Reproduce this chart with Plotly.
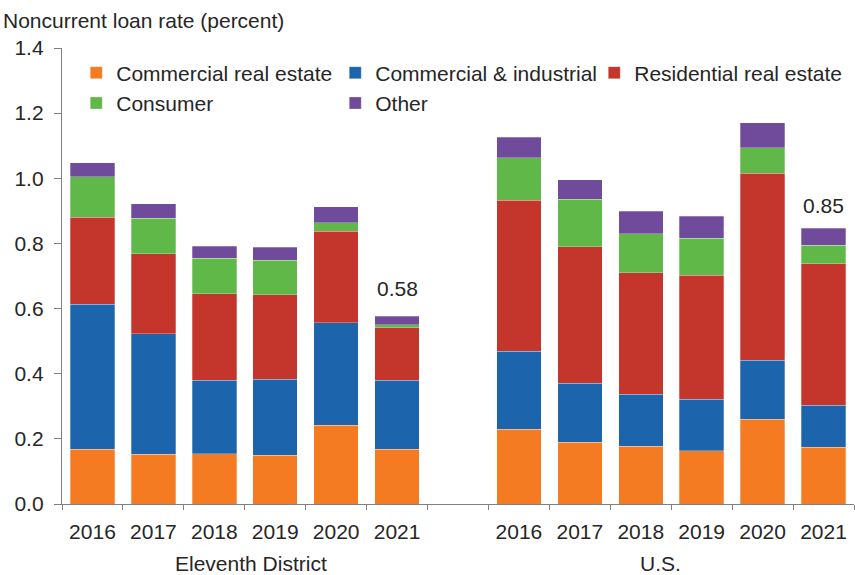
import plotly.graph_objects as go

years = ["2016", "2017", "2018", "2019", "2020", "2021"]
groups = ["Eleventh District", "U.S."]

# Eleventh District components (percent)
ed_cre = [0.168, 0.153, 0.154, 0.150, 0.242, 0.168]
ed_ci = [0.445, 0.369, 0.226, 0.233, 0.314, 0.212]
ed_rre = [0.268, 0.246, 0.266, 0.259, 0.282, 0.161]
ed_cons = [0.123, 0.109, 0.108, 0.106, 0.025, 0.009]
ed_other = [0.043, 0.045, 0.037, 0.040, 0.049, 0.027]

# U.S. components (percent)
us_cre = [0.230, 0.190, 0.178, 0.164, 0.260, 0.175]
us_ci = [0.239, 0.180, 0.159, 0.158, 0.181, 0.128]
us_rre = [0.464, 0.420, 0.373, 0.380, 0.574, 0.434]
us_cons = [0.130, 0.145, 0.119, 0.114, 0.078, 0.058]
us_other = [0.063, 0.060, 0.070, 0.067, 0.077, 0.052]

series_names = ["Commercial real estate", "Commercial & industrial",
                "Residential real estate", "Consumer", "Other"]
colors = ["#f47b22", "#1c64ab", "#c4352c", "#5fb847", "#704b9b"]
ed_series = [ed_cre, ed_ci, ed_rre, ed_cons, ed_other]
us_series = [us_cre, us_ci, us_rre, us_cons, us_other]

# positions: 6 bars, one empty slot, 6 bars
n = len(years)
x_ed = list(range(n))
x_us = [i + n + 1 for i in range(n)]
x_all = x_ed + x_us

FONT = "Liberation Sans, Arial, sans-serif"
FS = 21
TXT = "#262626"
AX = "#808080"

fig = go.Figure()
for name, col, ed, us in zip(series_names, colors, ed_series, us_series):
    fig.add_trace(go.Bar(
        x=x_all, y=ed + us, name=name,
        marker=dict(color=col, line=dict(color="rgba(255,255,255,0.35)", width=0.8)),
        width=0.73,
    ))

totals_ed = [sum(v) for v in zip(*ed_series)]
totals_us = [sum(v) for v in zip(*us_series)]

fig.add_annotation(x=x_ed[-1], y=totals_ed[-1], text=f"{totals_ed[-1]:.2f}",
                   showarrow=False, yanchor="bottom", yshift=14,
                   font=dict(size=FS, color=TXT, family=FONT))
fig.add_annotation(x=x_us[-1], y=totals_us[-1], text=f"{totals_us[-1]:.2f}",
                   showarrow=False, yanchor="bottom", yshift=9,
                   font=dict(size=FS, color=TXT, family=FONT))

# group labels
fig.add_annotation(x=(x_ed[0] + x_ed[-1]) / 2, y=0, yref="paper", text=groups[0],
                   showarrow=False, yanchor="middle", yshift=-59, xshift=6,
                   font=dict(size=FS, color=TXT, family=FONT))
fig.add_annotation(x=(x_us[0] + x_us[-1]) / 2, y=0, yref="paper", text=groups[1],
                   showarrow=False, yanchor="middle", yshift=-59, xshift=-11,
                   font=dict(size=FS, color=TXT, family=FONT))

# y-axis title at top-left
fig.add_annotation(x=0, xref="paper", xshift=-61, y=1, yref="paper", yshift=28,
                   text="Noncurrent loan rate (percent)", showarrow=False,
                   xanchor="left", yanchor="middle",
                   font=dict(size=FS, color=TXT, family=FONT))

fig.update_layout(
    width=855, height=575,
    margin=dict(l=62, r=1, t=48, b=71),
    barmode="stack",
    plot_bgcolor="white", paper_bgcolor="white",
    font=dict(family=FONT, size=FS, color=TXT),
    showlegend=True,
    legend=dict(orientation="h", x=0.018, xanchor="left", y=0.99, yanchor="top",
                traceorder="normal", entrywidth=214, entrywidthmode="pixels",
                font=dict(size=FS, color=TXT, family=FONT),
                bgcolor="rgba(0,0,0,0)", itemclick=False, tracegroupgap=0),
    xaxis=dict(
        range=[-0.5, x_us[-1] + 0.5],
        tickmode="array", tickvals=x_all, ticktext=years + years,
        ticks="", showline=True, linecolor=AX, linewidth=1.3,
        showgrid=False, zeroline=False,
        ticklabelstandoff=9,
        tickfont=dict(size=FS, color=TXT, family=FONT),
        minor=dict(tick0=-0.5, dtick=1, ticks="outside", ticklen=5,
                   tickcolor=AX, tickwidth=1.3, showgrid=False),
    ),
    yaxis=dict(
        range=[0, 1.4], dtick=0.2, tickformat=".1f",
        ticks="outside", ticklen=7, tickcolor=AX, tickwidth=1.3,
        showline=True, linecolor=AX, linewidth=1.3,
        showgrid=False, zeroline=False,
        ticklabelstandoff=6,
        tickfont=dict(size=FS, color=TXT, family=FONT),
    ),
)

fig.write_html("out.html", config={"displayModeBar": False},
               post_script="document.body.style.margin='0';")
